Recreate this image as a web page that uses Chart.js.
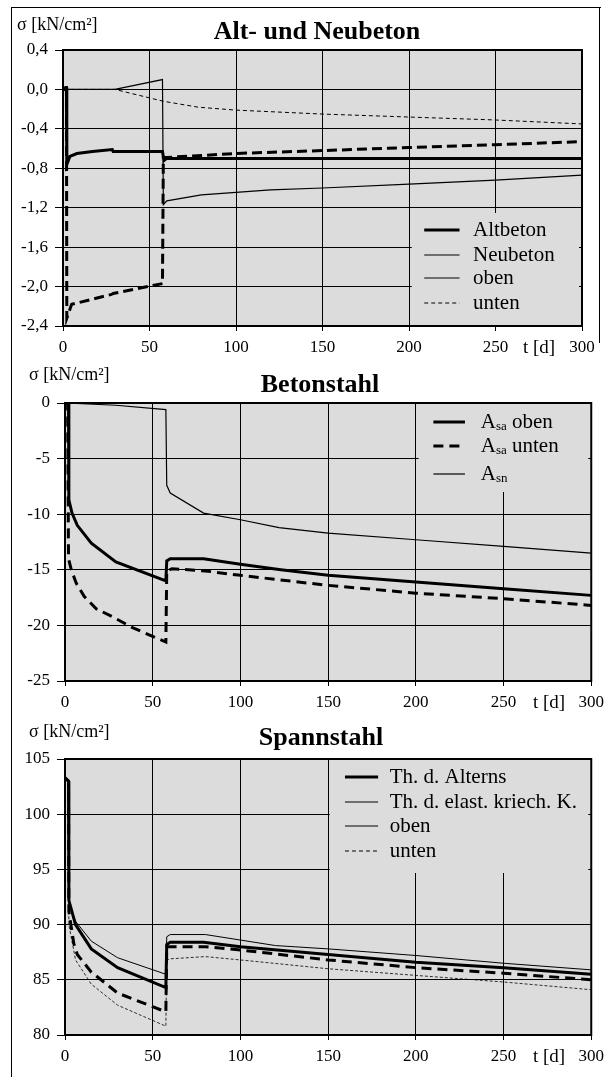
<!DOCTYPE html>
<html>
<head>
<meta charset="utf-8">
<script src="https://cdn.jsdelivr.net/npm/chart.js@4.4.0/dist/chart.umd.min.js"></script>
<style>
body { margin: 0; background: #fff; width: 610px; height: 1077px; position: relative; overflow: hidden; }
.frameL { position: absolute; left: 11px; top: 7px; width: 589px; height: 1080px; border-left: 1px solid #000; border-top: 1px solid #000; }
.frameR { position: absolute; left: 599px; top: 7px; width: 0; height: 336px; border-left: 1px solid #000; }
.box { position: absolute; left: 0; width: 610px; }
</style>
</head>
<body>
<div class="frameL"></div>
<div class="frameR"></div>
<div class="box" style="top:0;height:362px"><canvas id="c1"></canvas></div>
<div class="box" style="top:362px;height:356px"><canvas id="c2"></canvas></div>
<div class="box" style="top:718px;height:359px"><canvas id="c3"></canvas></div>
<script>
// ---- data: Alt- und Neubeton ----
var altObenT  = [0, 1.5, 2, 2.2, 4, 8, 17, 28.5, 29, 57.5, 58, 58.5, 60, 300];
var altObenY  = [0, 0.02, 0.02, -0.76, -0.68, -0.65, -0.63, -0.61, -0.63, -0.63, -0.68, -0.72, -0.70, -0.70];
var altUntenT = [0, 1.5, 2, 2.2, 5, 28, 29, 57.5, 58, 60, 100, 150, 200, 250, 300];
var altUntenY = [0, 0, 0, -2.32, -2.18, -2.08, -2.07, -1.97, -0.69, -0.69, -0.65, -0.62, -0.59, -0.56, -0.53];
var neuObenT  = [0, 30, 57.5, 58, 60, 80, 120, 150, 200, 250, 300];
var neuObenY  = [0, 0, 0.10, -1.17, -1.13, -1.07, -1.02, -1.00, -0.96, -0.92, -0.87];
var neuUntenT = [0, 30, 58, 78, 100, 150, 200, 250, 300];
var neuUntenY = [0, 0, -0.12, -0.18, -0.21, -0.25, -0.28, -0.31, -0.35];

// ---- data: Betonstahl ----
var asaObenT  = [0, 1, 2, 2.2, 4, 7, 15, 29, 57.5, 58, 60, 79, 100, 123, 150, 200, 250, 300];
var asaObenY  = [0, 0, 0, -8.7, -9.9, -11.0, -12.6, -14.3, -16.0, -14.2, -14.0, -14.0, -14.5, -15.0, -15.5, -16.1, -16.7, -17.3];
var asaUntenT = [0, 1.5, 2, 3.6, 6.4, 11, 17.8, 28, 38.5, 57.5, 58, 61, 80, 100, 150, 200, 250, 300];
var asaUntenY = [0, 0, -14.0, -15.0, -16.2, -17.4, -18.5, -19.3, -20.2, -21.5, -15.1, -14.9, -15.1, -15.5, -16.4, -17.1, -17.6, -18.2];
var asnT      = [0, 29, 57.5, 58, 60, 79, 100, 122, 150, 200, 250, 300];
var asnY      = [0, -0.2, -0.6, -7.4, -8.1, -9.9, -10.5, -11.2, -11.7, -12.3, -12.9, -13.5];

// ---- data: Spannstahl ----
var thaObenT  = [0, 2, 2.2, 6, 15, 30, 57.5, 58, 60, 79, 100, 150, 200, 250, 300];
var thaObenY  = [103.3, 103.0, 92.2, 90.0, 87.8, 86.1, 84.3, 88.2, 88.4, 88.4, 88.0, 87.3, 86.6, 86.1, 85.5];
var thaUntenT = [0, 2, 2.2, 5, 7, 15, 30, 57.5, 58, 60, 80, 100, 150, 200, 250, 300];
var thaUntenY = [103.3, 103.0, 91.2, 88.3, 87.3, 85.7, 83.8, 82.1, 88.0, 88.0, 88.0, 87.7, 86.8, 86.1, 85.6, 85.0];
var theObenT  = [0, 2, 2.2, 6, 15, 30, 57.5, 58, 60, 80, 100, 120, 150, 200, 250, 300];
var theObenY  = [103.3, 103.0, 92.0, 90.3, 88.5, 87.0, 85.5, 88.9, 89.1, 89.1, 88.6, 88.1, 87.8, 87.2, 86.5, 85.9];
var theUntenT = [0, 2, 2.2, 6, 15, 30, 57.5, 58, 60, 80, 100, 150, 200, 250, 300];
var theUntenY = [103.3, 103.0, 90.0, 86.8, 84.6, 82.7, 80.8, 86.8, 86.9, 87.1, 86.8, 86.0, 85.4, 84.8, 84.1];

// ---- labels ----
var titles = ['Alt- und Neubeton', 'Betonstahl', 'Spannstahl'];
var legend1 = ['Altbeton', 'Neubeton', 'oben', 'unten'];
var legend3 = ['Th. d. Alterns', 'Th. d. elast. kriech. K.', 'oben', 'unten'];
var unitLabel = 'σ [kN/cm²]';
var timeLabel = 't [d]';

var serif = '"Liberation Serif", "Times New Roman", serif';

function pts(t, y) {
    return t.map(function (v, i) { return { x: v, y: y[i] }; });
}

function line(t, y, w, dash) {
    return { data: pts(t, y), borderColor: '#000', borderWidth: w, borderDash: dash || [],
             pointRadius: 0, tension: 0, fill: false };
}

function decor(c) {
    return {
        id: 'decor',
        beforeDraw: function (ch) {
            var ctx = ch.ctx, a = ch.chartArea;
            ctx.save();
            ctx.fillStyle = '#dcdcdc';
            ctx.fillRect(a.left, a.top, a.right - a.left, a.bottom - a.top);
            ctx.restore();
        },
        beforeDatasetsDraw: function (ch) {
            var ctx = ch.ctx, a = ch.chartArea, w = a.right - a.left, lg = c.legend;
            var x0 = a.left + lg.boxL * w;
            var y0 = a.top + lg.boxTop;
            var y1 = lg.boxBottom == null ? a.bottom : a.top + lg.boxBottom;
            ctx.save();
            ctx.fillStyle = '#dcdcdc';
            ctx.fillRect(x0, y0 + 1, a.right - 3 - x0, y1 - y0 - 1);
            ctx.restore();
        },
        afterDraw: function (ch) {
            var ctx = ch.ctx, a = ch.chartArea, w = a.right - a.left, lg = c.legend;
            ctx.save();
            // plot frame
            ctx.strokeStyle = '#000';
            ctx.lineWidth = 2;
            ctx.strokeRect(a.left, a.top, w, a.bottom - a.top);
            ctx.fillStyle = '#000';
            // title
            ctx.font = 'bold 26px ' + serif;
            ctx.textAlign = 'center';
            ctx.textBaseline = 'middle';
            ctx.fillText(c.title, c.titleX, c.titleY);
            // unit labels
            ctx.font = '18px ' + serif;
            ctx.textAlign = 'left';
            ctx.fillText(unitLabel, c.unitX, c.unitY);
            ctx.font = '19px ' + serif;
            ctx.textAlign = 'center';
            ctx.fillText(timeLabel, c.tdX, a.bottom + 22);
            // legend
            lg.items.forEach(function (it) {
                var y = a.top + it.y;
                ctx.beginPath();
                ctx.lineWidth = it.width;
                ctx.setLineDash(it.dash || []);
                ctx.moveTo(a.left + lg.s0 * w, y);
                ctx.lineTo(a.left + lg.s1 * w, y);
                ctx.stroke();
                ctx.setLineDash([]);
                var x = a.left + lg.tx * w;
                ctx.textAlign = 'left';
                it.parts.forEach(function (p) {
                    ctx.font = (p.sub ? '13px ' : '21px ') + serif;
                    ctx.fillText(p.t, x, y + (p.sub ? 5 : 0));
                    x += ctx.measureText(p.t).width;
                });
            });
            ctx.restore();
        }
    };
}

function makeChart(id, c) {
    return new Chart(document.getElementById(id), {
        type: 'line',
        data: { datasets: c.datasets },
        plugins: [decor(c)],
        options: {
            responsive: true,
            maintainAspectRatio: false,
            animation: false,
            layout: { padding: { top: c.padTop, right: c.padRight, left: 0, bottom: 0 } },
            plugins: { legend: { display: false }, tooltip: { enabled: false }, title: { display: false } },
            scales: {
                x: {
                    type: 'linear', min: 0, max: 300,
                    afterFit: function (s) { s.height = c.xHeight; },
                    ticks: { stepSize: 50, color: '#000', padding: 6, maxRotation: 0,
                             font: { family: serif, size: 17 } },
                    grid: { color: '#000', lineWidth: 1, tickLength: 5 },
                    border: { color: '#000', width: 2 }
                },
                y: {
                    min: c.yMin, max: c.yMax,
                    afterFit: function (s) { s.width = c.yWidth; },
                    ticks: { stepSize: c.yStep, color: '#000', padding: 7,
                             font: { family: serif, size: 17 }, callback: c.yFmt },
                    grid: { color: '#000', lineWidth: 1, tickLength: 8 },
                    border: { color: '#000', width: 2 }
                }
            }
        }
    });
}

makeChart('c1', {
    yMin: -2.4, yMax: 0.4, yStep: 0.4,
    yFmt: function (v) { return v.toFixed(1).replace('.', ',').replace('-0,0', '0,0'); },
    yWidth: 63, xHeight: 36, padTop: 50, padRight: 28,
    title: titles[0], titleX: 317, titleY: 32, unitX: 17, unitY: 25, tdX: 539,
    datasets: [
        line(neuUntenT, neuUntenY, 1, [4, 3]),
        line(neuObenT, neuObenY, 1.2),
        line(altUntenT, altUntenY, 3, [10, 5]),
        line(altObenT, altObenY, 3)
    ],
    legend: {
        boxL: 0.672, boxTop: 162, boxBottom: null, s0: 0.696, s1: 0.764, tx: 0.79,
        items: [
            { y: 180, width: 3, parts: [{ t: legend1[0] }] },
            { y: 205, width: 1.2, parts: [{ t: legend1[1] }] },
            { y: 228, width: 1.2, parts: [{ t: legend1[2] }] },
            { y: 253, width: 1.2, dash: [4, 3], parts: [{ t: legend1[3] }] }
        ]
    }
});

makeChart('c2', {
    yMin: -25, yMax: 0, yStep: 5,
    yFmt: function (v) { return String(v); },
    yWidth: 65, xHeight: 37, padTop: 41, padRight: 17,
    title: titles[1], titleX: 320, titleY: 23, unitX: 29, unitY: 13, tdX: 549,
    datasets: [
        line(asnT, asnY, 1.2),
        line(asaUntenT, asaUntenY, 3, [10, 6]),
        line(asaObenT, asaObenY, 3)
    ],
    legend: {
        boxL: 0.672, boxTop: 0, boxBottom: 89, s0: 0.700, s1: 0.760, tx: 0.79,
        items: [
            { y: 19, width: 3, parts: [{ t: 'A' }, { t: 'sa', sub: true }, { t: ' oben' }] },
            { y: 43, width: 3, dash: [10, 6], parts: [{ t: 'A' }, { t: 'sa', sub: true }, { t: ' unten' }] },
            { y: 71, width: 1.2, parts: [{ t: 'A' }, { t: 'sn', sub: true }] }
        ]
    }
});

makeChart('c3', {
    yMin: 80, yMax: 105, yStep: 5,
    yFmt: function (v) { return String(v); },
    yWidth: 65, xHeight: 42, padTop: 41, padRight: 17,
    title: titles[2], titleX: 321, titleY: 20, unitX: 29, unitY: 14, tdX: 549,
    datasets: [
        line(theUntenT, theUntenY, 0.8, [3, 2]),
        line(theObenT, theObenY, 1),
        line(thaUntenT, thaUntenY, 3, [10, 6]),
        line(thaObenT, thaObenY, 3)
    ],
    legend: {
        boxL: 0.503, boxTop: 0, boxBottom: 114, s0: 0.532, s1: 0.595, tx: 0.617,
        items: [
            { y: 18, width: 3, parts: [{ t: legend3[0] }] },
            { y: 43, width: 1, parts: [{ t: legend3[1] }] },
            { y: 67, width: 1.2, parts: [{ t: legend3[2] }] },
            { y: 92, width: 1.2, dash: [4, 3], parts: [{ t: legend3[3] }] }
        ]
    }
});
</script>
</body>
</html>
